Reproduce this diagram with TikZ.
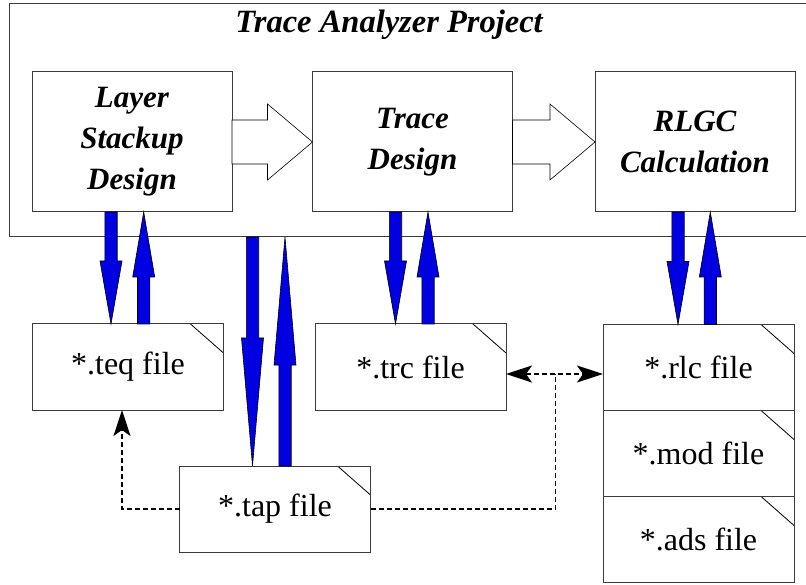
\documentclass[tikz,border=0pt]{standalone}
\usepackage{fontspec}
\setmainfont{Liberation Serif}
\usetikzlibrary{arrows.meta,positioning,calc}
\definecolor{flowblue}{HTML}{0000E0}
\definecolor{boxgray}{HTML}{3C3C3C}

% arrow body from (ba-s) to (ba-t): style, head length, half shaft, half head
\newcommand{\arrowbody}[4]{%
  \coordinate (ba-b) at ($(ba-t)!#2!(ba-s)$);
  \draw[#1] ($(ba-s)!#3!90:(ba-t)$) -- ($(ba-b)!#3!90:(ba-t)$) --
    ($(ba-b)!#4!90:(ba-t)$) -- (ba-t) -- ($(ba-b)!#4!-90:(ba-t)$) --
    ($(ba-b)!#3!-90:(ba-t)$) -- ($(ba-s)!#3!-90:(ba-t)$) -- cycle;}
% vertical blue arrow: x reference, from, to, head length
\newcommand{\fatarrow}[4]{%
  \coordinate (ba-x) at (#1);
  \coordinate (ba-s) at (ba-x |- #2);
  \coordinate (ba-t) at (ba-x |- #3);
  \arrowbody{fatflow}{#4}{6.2pt}{11pt}}
% hollow arrow between two stages
\newcommand{\openarrow}[2]{%
  \coordinate (ba-s) at (#1);
  \coordinate (ba-t) at (#2);
  \arrowbody{openflow}{45pt}{22pt}{38pt}}

\begin{document}
\begin{tikzpicture}[x=1pt,y=-1pt,
    stage/.style   = {draw=boxgray,line width=1pt,outer sep=0pt,
                      minimum width=200pt,minimum height=140pt,align=center,
                      font=\fontsize{31}{41}\selectfont\bfseries\itshape},
    filebox/.style = {draw=boxgray,line width=1pt,outer sep=0pt,
                      minimum width=191pt,minimum height=86pt,
                      font=\fontsize{32}{38}\selectfont,
                      path picture={\draw[black,line width=0.8pt]
                        ([xshift=-33pt]path picture bounding box.north east) --
                        ([yshift=-29pt]path picture bounding box.north east);}},
    fatflow/.style = {fill=flowblue,draw=black,line width=0.6pt},
    openflow/.style= {fill=white,draw=black,line width=0.6pt},
    dashlink/.style= {black,line width=1.2pt,dash pattern=on 5pt off 3pt},
    reftip/.tip    = {Stealth[length=26pt,width=17pt,inset=6pt,sep=0pt]},
  ]
  \useasboundingbox (0,0) rectangle (806,585);

  % project frame and title
  \node[draw=boxgray,line width=1pt,outer sep=0pt,anchor=north west,
        minimum width=830pt,minimum height=233.5pt] (project) at (9.5,3.5) {};
  \node[font=\fontsize{32.5}{38}\selectfont\bfseries\itshape] (title)
       at (389,25) {Trace Analyzer Project};

  % design stages
  \node[stage] (layer)    at (132,142)   {Layer\\Stackup\\Design};
  \node[stage] (tracebox) at (412.5,142) {Trace\\Design};
  \node[stage] (rlgc)     at (695,142)   {RLGC\\Calculation};

  \openarrow{layer.east}{tracebox.west}
  \openarrow{tracebox.east}{rlgc.west}

  % data files
  \node[filebox] (teq) at (128,367)   {*.teq file};
  \node[filebox] (trc) at (410.5,367) {*.trc file};
  \node[filebox] (tap) at (275,509)   {*.tap file};
  \node[filebox] (rlc) at (698.5,367.5) {*.rlc file};
  \node[filebox,below=0pt of rlc] (mod) {*.mod file};
  \node[filebox,below=0pt of mod] (ads) {*.ads file};

  % read / write
  \fatarrow{[xshift=-21pt]layer.south}{layer.south}{teq.north}{63pt}
  \fatarrow{[xshift=15.7pt]teq.north}{teq.north}{layer.south}{65pt}
  \fatarrow{[xshift=-17pt]tracebox.south}{tracebox.south}{trc.north}{63pt}
  \fatarrow{[xshift=17.5pt]trc.north}{trc.north}{tracebox.south}{65pt}
  \fatarrow{[xshift=-17pt]rlgc.south}{rlgc.south}{rlc.north}{63pt}
  \fatarrow{[xshift=11.8pt]rlc.north}{rlc.north}{rlgc.south}{65pt}
  \fatarrow{[xshift=-22.5pt]tap.north}{project.south}{tap.north}{128pt}
  \fatarrow{[xshift=10pt]tap.north}{tap.north}{project.south}{128pt}

  % file references
  \coordinate (split) at (555.7,374);
  \draw[dashlink,-reftip] (tap.west) -| ([xshift=-6pt]teq.south);
  \draw[dashlink] (tap.east) -| (split);
  \draw[dashlink,reftip-reftip] (trc.east |- split) -- (rlc.west |- split);

\end{tikzpicture}
\end{document}
